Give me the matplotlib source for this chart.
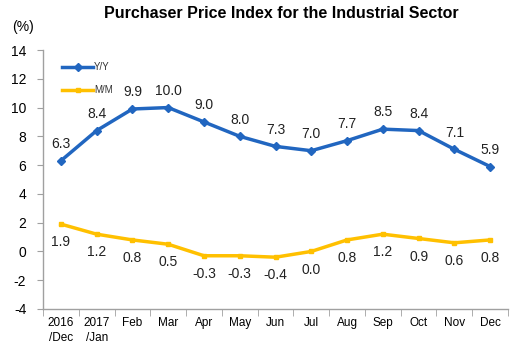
import matplotlib
matplotlib.use("Agg")
import matplotlib.pyplot as plt
import numpy as np

plt.rcParams['font.family'] = ['Liberation Sans', 'DejaVu Sans']

months = ["2016\n/Dec", "2017\n/Jan", "Feb", "Mar", "Apr", "May", "Jun",
          "Jul", "Aug", "Sep", "Oct", "Nov", "Dec"]
yoy = [6.3, 8.4, 9.9, 10.0, 9.0, 8.0, 7.3, 7.0, 7.7, 8.5, 8.4, 7.1, 5.9]
mom = [1.9, 1.2, 0.8, 0.5, -0.3, -0.3, -0.4, 0.0, 0.8, 1.2, 0.9, 0.6, 0.8]
y_ticks = [-4, -2, 0, 2, 4, 6, 8, 10, 12, 14]

blue = "#2166C0"
gold = "#FFC000"

fig = plt.figure(figsize=(5.16, 3.49), dpi=100)
ax = fig.add_axes([43/516, 1-309/349, (508-43)/516, (309-50)/349])

x = np.arange(len(months))
ax.plot(x, yoy, color=blue, lw=2.5, marker="D", ms=4, label="Y/Y")
ax.plot(x, mom, color=gold, lw=2.5, marker="s", ms=3.5, label="M/M")

for xi, v in zip(x, yoy):
    ax.annotate(f"{v:.1f}", (xi, v), xytext=(0, 7), textcoords="offset points",
                ha="center", va="bottom", fontsize=10, color="#222222")
for xi, v in zip(x, mom):
    ax.annotate(f"{v:.1f}", (xi, v), xytext=(0, -8), textcoords="offset points",
                ha="center", va="top", fontsize=10, color="#222222")

ax.set_xlim(-0.5, len(months) - 0.5)
ax.set_ylim(-4, 14)
ax.set_yticks(y_ticks)
ax.set_yticklabels([str(t) for t in y_ticks], fontsize=10)
ax.set_xticks(x)
ax.set_xticklabels(months, fontsize=8.5, family=['Liberation Sans Narrow', 'Liberation Sans'],
                   va="top", linespacing=1.3)
ax.set_xticks(np.arange(-0.5, len(months)), minor=True)
ax.tick_params(axis="x", which="major", length=0, pad=6)
ax.tick_params(axis="x", which="minor", length=5, color="#A0A0A0", direction="out")
ax.tick_params(axis="y", length=4, color="#A0A0A0", direction="out", pad=8)

for s in ["top", "right"]:
    ax.spines[s].set_visible(False)
for s in ["left", "bottom"]:
    ax.spines[s].set_color("#A0A0A0")
    ax.spines[s].set_linewidth(1)

leg = ax.legend(loc="upper left", bbox_to_anchor=(0.02, 0.99), frameon=False,
                fontsize=7, handlelength=3.2, labelspacing=1.3, handletextpad=0.1,
                borderaxespad=0.6)
for t in leg.get_texts():
    t.set_color("#333333")

fig.text(281/516, 1-14/349, "Purchaser Price Index for the Industrial Sector",
         ha="center", va="center", fontsize=11.5, fontweight="bold")
fig.text(12/516, 1-27/349, "(%)", ha="left", va="center", fontsize=10)

fig.savefig("out.png", dpi=100)
